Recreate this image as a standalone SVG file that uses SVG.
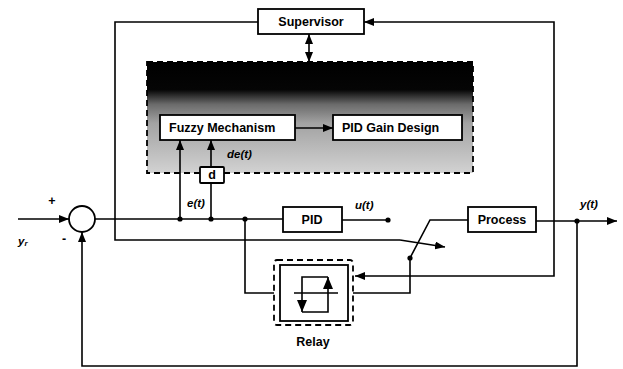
<svg xmlns="http://www.w3.org/2000/svg" width="623" height="369" viewBox="0 0 623 369">
<style>
.box{fill:#fff;stroke:#000;stroke-width:1.8}
.ln{fill:none;stroke:#000;stroke-width:1.6}
.lbl{font-family:"Liberation Sans",Arial,sans-serif;font-size:12.5px;font-weight:bold;fill:#000}
.it{font-family:"Liberation Sans",Arial,sans-serif;font-size:11.5px;font-weight:bold;font-style:italic;fill:#000}
.dash{fill:none;stroke:#000;stroke-width:1.8;stroke-dasharray:6 4}
</style>
<defs>
<linearGradient id="g" x1="0" y1="0" x2="0" y2="1">
<stop offset="0" stop-color="#000"/>
<stop offset="0.25" stop-color="#050505"/>
<stop offset="0.38" stop-color="#6a6a6a"/>
<stop offset="0.55" stop-color="#a2a2a2"/>
<stop offset="1" stop-color="#d2d2d2"/>
</linearGradient>
<marker id="a" viewBox="0 0 10 8" refX="10" refY="4" markerWidth="10" markerHeight="8" markerUnits="userSpaceOnUse" orient="auto-start-reverse">
<path d="M0,0 L10,4 L0,8 Z" fill="#000"/>
</marker>
<marker id="b" viewBox="0 0 12 10" refX="12" refY="5" markerWidth="12" markerHeight="10" markerUnits="userSpaceOnUse" orient="auto">
<path d="M0,0 L12,5 L0,10 Z" fill="#000"/>
</marker>
</defs>
<rect width="623" height="369" fill="#fff"/>

<g id="fuzzy-area">
<rect x="147" y="62" width="326" height="111" class="dash" style="fill:url(#g)"/>
</g>

<g id="connectors">
<line class="ln" x1="18" y1="219" x2="69" y2="219" marker-end="url(#a)"/>
<line class="ln" x1="95" y1="219" x2="283" y2="219"/>
<line class="ln" x1="180" y1="219" x2="180" y2="140" marker-end="url(#a)"/>
<line class="ln" x1="211" y1="219" x2="211" y2="183"/>
<line class="ln" x1="211" y1="167" x2="211" y2="140" marker-end="url(#a)"/>
<line class="ln" x1="295" y1="128" x2="333" y2="128" marker-end="url(#a)"/>
<line class="ln" x1="309" y1="34" x2="309" y2="62" marker-start="url(#a)" marker-end="url(#a)"/>
<polyline class="ln" points="258,22 115,22 115,240 400,240"/>
<line class="ln" x1="400" y1="240" x2="445" y2="247" marker-end="url(#a)"/>
<polyline class="ln" points="355,276 554,276 554,22 364,22" marker-start="url(#a)" marker-end="url(#a)"/>
<line class="ln" x1="342" y1="220" x2="388" y2="220"/>
<polyline class="ln" points="410,258 430,220 468,220"/>
<polyline class="ln" points="410,258 410,293 353,293"/>
<polyline class="ln" points="245,219 245,293 274,293"/>
<line class="ln" x1="536" y1="221" x2="617" y2="221" marker-end="url(#a)"/>
<polyline class="ln" points="577,221 577,366 82,366 82,232" marker-end="url(#a)"/>
<circle cx="180" cy="219" r="2.6" fill="#000"/>
<circle cx="211" cy="219" r="2.6" fill="#000"/>
<circle cx="245" cy="219" r="2.6" fill="#000"/>
<circle cx="388" cy="220" r="2.6" fill="#000"/>
<circle cx="410" cy="258" r="2.6" fill="#000"/>
<circle cx="577" cy="221" r="2.6" fill="#000"/>
</g>

<g id="sum">
<circle cx="82" cy="219" r="13" fill="#fff" stroke="#000" stroke-width="1.8"/>
<text class="lbl" x="52" y="205" text-anchor="middle">+</text>
<text class="lbl" x="64" y="243" text-anchor="middle">-</text>
<text class="it" x="18" y="245">y<tspan font-size="8" dy="1">r</tspan></text>
</g>

<g id="supervisor">
<rect class="box" x="258" y="9" width="106" height="25"/>
<text class="lbl" x="311" y="26" text-anchor="middle">Supervisor</text>
</g>

<g id="fuzzy">
<rect class="box" x="160" y="115" width="135" height="25"/>
<text class="lbl" x="169" y="132">Fuzzy Mechanism</text>
</g>

<g id="gain">
<rect class="box" x="333" y="115" width="129" height="25"/>
<text class="lbl" x="342" y="132">PID Gain Design</text>
</g>

<g id="d">
<rect class="box" x="200" y="167" width="24" height="16" rx="1"/>
<text class="lbl" x="212" y="179" text-anchor="middle">d</text>
<text class="it" x="227" y="158">de(t)</text>
</g>

<g id="pid">
<rect class="box" x="283" y="207" width="59" height="25"/>
<text class="lbl" x="312" y="224" text-anchor="middle">PID</text>
<text class="it" x="187" y="207">e(t)</text>
<text class="it" x="355" y="209">u(t)</text>
</g>

<g id="process">
<rect class="box" x="468" y="207" width="68" height="25"/>
<text class="lbl" x="502" y="224" text-anchor="middle">Process</text>
<text class="it" x="580" y="208">y(t)</text>
</g>

<g id="relay">
<rect class="dash" x="274" y="260" width="79" height="65" rx="3"/>
<rect class="box" x="280" y="265" width="68" height="56"/>
<line class="ln" x1="294" y1="293" x2="338" y2="293"/>
<polyline class="ln" points="302,293 302,277 328,277"/>
<polyline class="ln" points="328,293 328,312 302,312"/>
<line class="ln" x1="302" y1="293" x2="302" y2="312" marker-end="url(#b)"/>
<line class="ln" x1="328" y1="293" x2="328" y2="277" marker-end="url(#b)"/>
<text class="lbl" x="313" y="346" text-anchor="middle">Relay</text>
</g>
</svg>
